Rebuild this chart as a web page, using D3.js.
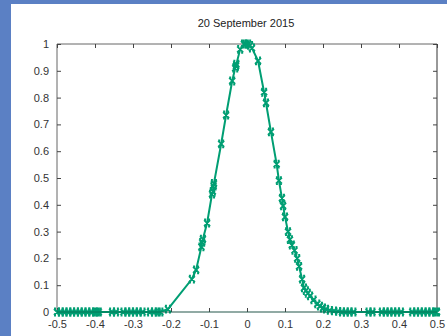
<!DOCTYPE html>
<html><head><meta charset="utf-8">
<script src="https://cdn.jsdelivr.net/npm/d3@7"></script>
<style>html,body{margin:0;padding:0;background:#fff;overflow:hidden}</style>
</head><body><svg id="c" width="447" height="336"></svg>
<script>
const titleText = "20 September 2015";
const xTicks = [-0.5,-0.4,-0.3,-0.2,-0.1,0,0.1,0.2,0.3,0.4,0.5];
const yTicks = [0,0.1,0.2,0.3,0.4,0.5,0.6,0.7,0.8,0.9,1];
const xValues = [-0.5,-0.49,-0.48,-0.47,-0.46,-0.45,-0.44,-0.43,-0.42,-0.41,-0.40,-0.395,-0.39,
  -0.355,-0.345,-0.325,-0.315,-0.305,-0.295,-0.285,-0.275,-0.255,-0.245,-0.235,-0.228,
  -0.208,-0.145,-0.134,-0.12,-0.118,-0.116,-0.105,-0.092,-0.09,-0.088,-0.087,-0.068,-0.055,
  -0.039,-0.031,-0.029,-0.028,-0.018,-0.008,-0.003,0.003,0.008,0.013,0.029,0.045,0.05,
  0.063,0.078,0.084,0.092,0.095,0.1,0.108,0.113,0.118,0.125,0.132,0.137,0.145,0.15,0.155,
  0.16,0.166,0.175,0.185,0.192,0.2,0.208,0.218,0.229,0.24,0.25,0.26,0.27,0.28,0.32,0.33,
  0.355,0.365,0.375,0.385,0.395,0.405,0.435,0.445,0.455,0.465,0.475,0.485,0.495,0.5];
const yValues = [0,0,0,0,0,0,0,0,0,0,0,0,0,
  0,0,0,0,0,0,0,0,0,0,0,0,
  0.011,0.123,0.157,0.243,0.26,0.272,0.332,0.44,0.45,0.47,0.48,0.627,0.735,
  0.862,0.91,0.918,0.925,0.98,1.0,1.0,1.0,0.995,0.985,0.937,0.82,0.78,
  0.672,0.552,0.49,0.425,0.396,0.355,0.3,0.27,0.25,0.23,0.2,0.17,0.123,0.09,0.08,
  0.07,0.06,0.045,0.03,0.022,0.015,0.011,0.006,0.004,0.002,0,0,0,0,0,0,
  0,0,0,0,0,0,0,0,0,0,0,0,0,0];

const svg = d3.select("#c");
svg.append("rect").attr("width",447).attr("height",336).attr("fill","#fff");
svg.append("rect").attr("x",0).attr("y",0).attr("width",447).attr("height",4).attr("fill","#5b80c4");
svg.append("rect").attr("x",0).attr("y",0).attr("width",11).attr("height",336).attr("fill","#5b80c4");

const L=57,R=437,T=44,B=312;
const x = d3.scaleLinear().domain([-0.5,0.5]).range([L,R]);
const y = d3.scaleLinear().domain([0,1]).range([B,T]);
const font = "Liberation Sans, Arial, sans-serif";
const fmt = d => String(+(+d).toFixed(1));

svg.append("text").attr("x",246).attr("y",27).attr("text-anchor","middle")
  .attr("font-family",font).attr("font-size",11).attr("fill","#222").text(titleText);

// frame
svg.append("line").attr("x1",L).attr("x2",R).attr("y1",T).attr("y2",T).attr("stroke","#666");
svg.append("line").attr("x1",L).attr("x2",R).attr("y1",B).attr("y2",B).attr("stroke","#999");
svg.append("line").attr("x1",L).attr("x2",L).attr("y1",T).attr("y2",B).attr("stroke","#666");
svg.append("line").attr("x1",R).attr("x2",R).attr("y1",T).attr("y2",B).attr("stroke","#333");

const gb = svg.append("g").attr("transform",`translate(0,${B})`)
  .call(d3.axisBottom(x).tickValues(xTicks).tickSizeInner(-4).tickSizeOuter(0).tickPadding(6).tickFormat(fmt));
const gt = svg.append("g").attr("transform",`translate(0,${T})`)
  .call(d3.axisTop(x).tickValues(xTicks).tickSizeInner(-4).tickSizeOuter(0).tickFormat(""));
const gl = svg.append("g").attr("transform",`translate(${L},0)`)
  .call(d3.axisLeft(y).tickValues(yTicks).tickSizeInner(-4).tickSizeOuter(0).tickPadding(8).tickFormat(fmt));
const gr = svg.append("g").attr("transform",`translate(${R},0)`)
  .call(d3.axisRight(y).tickValues(yTicks).tickSizeInner(-4).tickSizeOuter(0).tickFormat(""));
[gb,gt,gl,gr].forEach(g=>{
  g.select(".domain").remove();
  g.selectAll(".tick line").attr("stroke","#444");
  g.selectAll("text").attr("font-family",font).attr("font-size",11).attr("fill","#333");
});
gb.selectAll("text").attr("dy","0.95em");

const pts = xValues.map((v,i)=>[v,yValues[i]]);
svg.append("path").datum(pts)
  .attr("d", d3.line().x(d=>x(d[0])).y(d=>y(d[1])))
  .attr("fill","none").attr("stroke","#009e73").attr("stroke-width",2);
svg.append("g").selectAll("path").data(pts).join("path")
  .attr("transform",d=>`translate(${x(d[0])},${y(d[1])})`)
  .attr("d","M-3,-3L3,3M3,-3L-3,3M-3,-3.5L-1,-3.5M1,-3.5L3,-3.5M-3,3.5L-1,3.5M1,3.5L3,3.5")
  .attr("fill","none").attr("stroke","#009e73").attr("stroke-width",1.8);
svg.append("line").attr("x1",x(-0.5)).attr("x2",x(0.5)).attr("y1",B).attr("y2",B)
  .attr("stroke","#0b5e48").attr("stroke-width",1).attr("opacity",0.6);
</script></body></html>
